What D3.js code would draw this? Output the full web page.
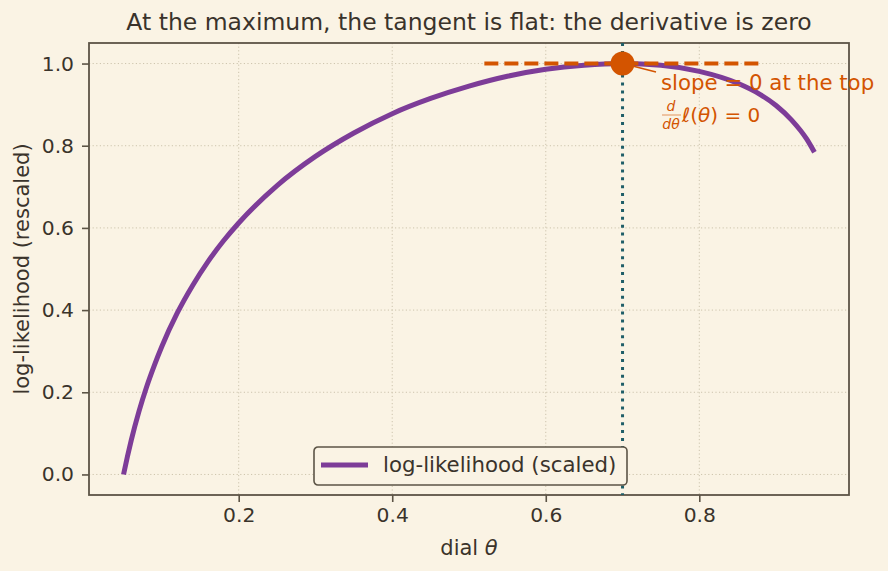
<!DOCTYPE html>
<html>
<head>
<meta charset="utf-8">
<script src="https://cdn.jsdelivr.net/npm/d3@7"></script>
<style>
  body { margin: 0; background: #faf3e4; }
  svg { display: block; font-family: "DejaVu Sans", sans-serif; }
</style>
</head>
<body>
<svg id="chart"></svg>
<script>
// dial values and the rescaled log-likelihood
const theta = [0.05, 0.055, 0.06, 0.07, 0.08, 0.09, 0.10, 0.12, 0.14, 0.16, 0.18, 0.20,
  0.25, 0.30, 0.35, 0.40, 0.45, 0.50, 0.55, 0.60, 0.65, 0.70, 0.75, 0.80, 0.85,
  0.88, 0.90, 0.92, 0.94, 0.95];
const loglik = [0.000, 0.043, 0.083, 0.153, 0.213, 0.265, 0.312, 0.393, 0.460, 0.518, 0.568, 0.612,
  0.703, 0.774, 0.831, 0.878, 0.915, 0.945, 0.969, 0.986, 0.996, 1.000, 0.996, 0.981, 0.952,
  0.924, 0.898, 0.863, 0.816, 0.784];
const xTicks = [0.2, 0.4, 0.6, 0.8];
const yTicks = [0.0, 0.2, 0.4, 0.6, 0.8, 1.0];
const peak = { theta: 0.7, value: 1.0 };
const tangentSpan = [0.52, 0.88];

const width = 888, height = 571;
const margin = { top: 43, right: 39, bottom: 76, left: 89 };
const ink = '#3a332b', spine = '#5c5446', grid = '#cdc4ad';
const purple = '#7d3c98', orange = '#d35400', teal = '#1f5e68';

const svg = d3.select('#chart').attr('width', width).attr('height', height);
svg.append('rect').attr('width', width).attr('height', height).attr('fill', '#faf3e4');

const x = d3.scaleLinear().domain([0.005, 0.995]).range([margin.left, width - margin.right]);
const y = d3.scaleLinear().domain([-0.05, 1.05]).range([height - margin.bottom, margin.top]);

// grid
svg.append('g').selectAll('line').data(xTicks).join('line')
  .attr('x1', d => x(d)).attr('x2', d => x(d))
  .attr('y1', y.range()[1]).attr('y2', y.range()[0])
  .attr('stroke', grid).attr('stroke-width', 1).attr('stroke-dasharray', '1.2,2.4');
svg.append('g').selectAll('line').data(yTicks).join('line')
  .attr('y1', d => y(d)).attr('y2', d => y(d))
  .attr('x1', x.range()[0]).attr('x2', x.range()[1])
  .attr('stroke', grid).attr('stroke-width', 1).attr('stroke-dasharray', '1.2,2.4');

// axes
const xAxis = svg.append('g').attr('transform', `translate(0,${height - margin.bottom})`)
  .call(d3.axisBottom(x).tickValues(xTicks).tickFormat(d3.format('.1f')).tickSizeOuter(0).tickSize(7).tickPadding(6));
const yAxis = svg.append('g').attr('transform', `translate(${margin.left},0)`)
  .call(d3.axisLeft(y).tickValues(yTicks).tickFormat(d3.format('.1f')).tickSizeOuter(0).tickSize(7).tickPadding(8));
[xAxis, yAxis].forEach(a => {
  a.select('.domain').remove();
  a.selectAll('line').attr('stroke', spine).attr('stroke-width', 1.6);
  a.selectAll('text').attr('fill', ink).style('font-size', '20.3px').style('font-family', '"DejaVu Sans", sans-serif');
});

// frame
svg.append('rect')
  .attr('x', x.range()[0]).attr('y', y.range()[1])
  .attr('width', x.range()[1] - x.range()[0]).attr('height', y.range()[0] - y.range()[1])
  .attr('fill', 'none').attr('stroke', spine).attr('stroke-width', 1.8);

// vertical line at the peak
svg.append('line')
  .attr('x1', x(peak.theta)).attr('x2', x(peak.theta))
  .attr('y1', y.range()[1]).attr('y2', y.range()[0])
  .attr('stroke', teal).attr('stroke-width', 3).attr('stroke-dasharray', '3,4.9');

// the curve
const line = d3.line().x((d, i) => x(theta[i])).y(d => y(d)).curve(d3.curveMonotoneX);
svg.append('path').datum(loglik)
  .attr('d', line).attr('fill', 'none')
  .attr('stroke', purple).attr('stroke-width', 5);

// flat tangent
svg.append('line')
  .attr('x1', x(tangentSpan[0])).attr('x2', x(tangentSpan[1]))
  .attr('y1', y(peak.value)).attr('y2', y(peak.value))
  .attr('stroke', orange).attr('stroke-width', 4).attr('stroke-dasharray', '14,6');

// annotation arrow + text
svg.append('line')
  .attr('x1', 656).attr('y1', 72).attr('x2', x(peak.theta) + 8).attr('y2', y(peak.value) + 2)
  .attr('stroke', orange).attr('stroke-width', 1.6);
svg.append('circle')
  .attr('cx', x(peak.theta)).attr('cy', y(peak.value)).attr('r', 12)
  .attr('fill', orange);

const ann = svg.append('g').attr('fill', orange).style('font-size', '21.3px');
ann.append('text').attr('x', 661).attr('y', 90).text('slope = 0 at the top');
ann.append('text').attr('x', 671).attr('y', 111).attr('text-anchor', 'middle')
  .style('font-size', '14px').style('font-style', 'italic').text('d');
ann.append('line').attr('x1', 662).attr('x2', 681).attr('y1', 115).attr('y2', 115)
  .attr('stroke', orange).attr('stroke-width', 0.6);
ann.append('text').attr('x', 671).attr('y', 129).attr('text-anchor', 'middle')
  .style('font-size', '14px').style('font-style', 'italic').text('dθ');
ann.append('text').attr('x', 682).attr('y', 122).style('font-size', '20px')
  .html('<tspan font-style="italic">ℓ</tspan>(<tspan font-style="italic">θ</tspan>) = 0');

// title and labels
svg.append('text').attr('x', (x.range()[0] + x.range()[1]) / 2).attr('y', 30)
  .attr('text-anchor', 'middle').attr('fill', ink).style('font-size', '23.5px')
  .text('At the maximum, the tangent is flat: the derivative is zero');
svg.append('text').attr('x', (x.range()[0] + x.range()[1]) / 2).attr('y', 555)
  .attr('text-anchor', 'middle').attr('fill', ink).style('font-size', '21px')
  .html('dial <tspan font-style="italic">θ</tspan>');
svg.append('text')
  .attr('transform', `translate(29,${(y.range()[0] + y.range()[1]) / 2}) rotate(-90)`)
  .attr('text-anchor', 'middle').attr('fill', ink).style('font-size', '21px')
  .text('log-likelihood (rescaled)');

// legend
const lg = svg.append('g').attr('transform', 'translate(314,447)');
lg.append('rect').attr('width', 313).attr('height', 38).attr('rx', 4)
  .attr('fill', '#faf3e4').attr('stroke', spine).attr('stroke-width', 1.6);
lg.append('line').attr('x1', 7).attr('x2', 54).attr('y1', 18).attr('y2', 18)
  .attr('stroke', purple).attr('stroke-width', 5);
lg.append('text').attr('x', 69).attr('y', 25).attr('fill', ink).style('font-size', '21.3px')
  .text('log-likelihood (scaled)');
</script>
</body>
</html>
